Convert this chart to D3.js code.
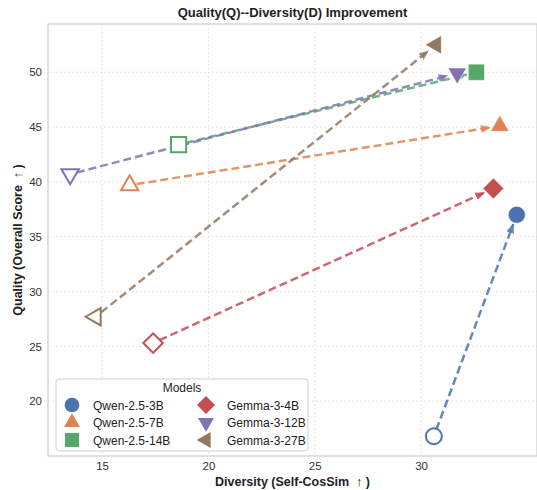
<!DOCTYPE html>
<html>
<head>
<meta charset="utf-8">
<script src="https://cdn.jsdelivr.net/npm/d3@7"></script>
<style>
  body { margin: 0; background: #fff; }
  text { font-family: "Liberation Sans", Arial, sans-serif; }
</style>
</head>
<body>
<script>
// model data: start (before) and end (after) points
const models = ["Qwen-2.5-3B", "Qwen-2.5-7B", "Qwen-2.5-14B", "Gemma-3-4B", "Gemma-3-12B", "Gemma-3-27B"];
const startDiversity = [30.6, 16.3, 18.6, 17.4, 13.5, 14.7];
const startQuality   = [16.8, 39.7, 43.4, 25.3, 40.7, 27.7];
const endDiversity   = [34.5, 33.7, 32.6, 33.4, 31.7, 30.7];
const endQuality     = [37.0, 45.1, 50.0, 39.4, 49.9, 52.5];
const colors  = ["#4C72B0", "#DD8452", "#55A868", "#C44E52", "#8172B3", "#937860"];
const shapes  = ["circle", "triangleUp", "square", "diamond", "triangleDown", "triangleLeft"];
const xTicks = [15, 20, 25, 30];
const yTicks = [20, 25, 30, 35, 40, 45, 50];

const W = 537, H = 490;
const margin = {top: 24, right: 0, bottom: 34, left: 48};

const svg = d3.select("body").append("svg")
  .attr("width", W).attr("height", H);

const x = d3.scaleLinear().domain([12.46, 35.45]).range([margin.left, W - margin.right]);
const y = d3.scaleLinear().domain([15.0, 54.4]).range([H - margin.bottom, margin.top]);

// grid
const g = svg.append("g");
g.selectAll(".vgrid").data(xTicks).join("line")
  .attr("x1", d => x(d)).attr("x2", d => x(d))
  .attr("y1", margin.top).attr("y2", H - margin.bottom)
  .attr("stroke", "#d6d6d6").attr("stroke-width", 0.8).attr("stroke-dasharray", "1.5,2.5");
g.selectAll(".hgrid").data(yTicks).join("line")
  .attr("y1", d => y(d)).attr("y2", d => y(d))
  .attr("x1", margin.left).attr("x2", W - margin.right)
  .attr("stroke", "#d6d6d6").attr("stroke-width", 0.8).attr("stroke-dasharray", "1.5,2.5");

// frame
svg.append("rect")
  .attr("x", margin.left).attr("y", margin.top)
  .attr("width", W - margin.right - margin.left)
  .attr("height", H - margin.bottom - margin.top)
  .attr("fill", "none").attr("stroke", "#cccccc").attr("stroke-width", 1.2);

// axes (no tick lines)
const xAxis = svg.append("g")
  .attr("transform", `translate(0,${H - margin.bottom})`)
  .call(d3.axisBottom(x).tickValues(xTicks).tickSize(0).tickPadding(6));
const yAxis = svg.append("g")
  .attr("transform", `translate(${margin.left},0)`)
  .call(d3.axisLeft(y).tickValues(yTicks).tickSize(0).tickPadding(6));
[xAxis, yAxis].forEach(a => {
  a.select(".domain").remove();
  a.selectAll("text").attr("font-size", 11.5).attr("fill", "#333")
    .attr("font-family", "'Liberation Sans', Arial, sans-serif");
});

// symbols
const symTypes = {
  circle: d3.symbolCircle,
  square: d3.symbolSquare,
  diamond: d3.symbolSquare,
  triangleUp: d3.symbolTriangle,
  triangleDown: d3.symbolTriangle,
  triangleLeft: d3.symbolTriangle
};
const symRot = {circle: 0, square: 0, diamond: 45, triangleUp: 0, triangleDown: 180, triangleLeft: -90};
const symSize = {circle: 200, square: 230, diamond: 190, triangleUp: 130, triangleDown: 130, triangleLeft: 130};
function symbolPath(shape, scale) {
  return d3.symbol().type(symTypes[shape]).size(symSize[shape] * scale)();
}

// arrowheads
const defs = svg.append("defs");
colors.forEach((c, i) => {
  defs.append("marker")
    .attr("id", "arrow" + i)
    .attr("viewBox", "0 0 10 10")
    .attr("refX", 9).attr("refY", 5)
    .attr("markerWidth", 4).attr("markerHeight", 4)
    .attr("orient", "auto")
    .append("path").attr("d", "M0,1 L10,5 L0,9 Z").attr("fill", c).attr("fill-opacity", 0.85);
});

const data = models.map((m, i) => ({
  name: m, i,
  x0: startDiversity[i], y0: startQuality[i],
  x1: endDiversity[i], y1: endQuality[i],
  color: colors[i], shape: shapes[i]
}));

// dashed arrows
svg.append("g").selectAll("line").data(data).join("line")
  .each(function(d) {
    const sx = x(d.x0), sy = y(d.y0), ex = x(d.x1), ey = y(d.y1);
    const len = Math.hypot(ex - sx, ey - sy);
    const ux = (ex - sx) / len, uy = (ey - sy) / len;
    const s0 = 7, s1 = 10;
    d3.select(this)
      .attr("x1", sx + ux * s0).attr("y1", sy + uy * s0)
      .attr("x2", ex - ux * s1).attr("y2", ey - uy * s1);
  })
  .attr("stroke", d => d.color).attr("stroke-opacity", 0.85)
  .attr("stroke-width", 2.5).attr("stroke-dasharray", "8,4")
  .attr("marker-end", d => `url(#arrow${d.i})`);

// start markers (hollow)
svg.append("g").selectAll("path").data(data).join("path")
  .attr("d", d => symbolPath(d.shape, 1))
  .attr("transform", d => `translate(${x(d.x0)},${y(d.y0)}) rotate(${symRot[d.shape]})`)
  .attr("fill", "#fff").attr("stroke", d => d.color).attr("stroke-width", 2);

// end markers (filled)
svg.append("g").selectAll("path").data(data).join("path")
  .attr("d", d => symbolPath(d.shape, 1.15))
  .attr("transform", d => `translate(${x(d.x1)},${y(d.y1)}) rotate(${symRot[d.shape]})`)
  .attr("fill", d => d.color).attr("stroke", "#fff").attr("stroke-width", 0.6);

// title and axis labels
svg.append("text").attr("x", (margin.left + W - margin.right) / 2).attr("y", 17)
  .attr("text-anchor", "middle").attr("font-size", 13).attr("font-weight", "bold").attr("fill", "#222")
  .text("Quality(Q)--Diversity(D) Improvement");
svg.append("text").attr("x", (margin.left + W - margin.right) / 2).attr("y", 486)
  .attr("text-anchor", "middle").attr("font-size", 12.5).attr("font-weight", "bold").attr("fill", "#222")
  .text("Diversity (Self-CosSim\u00a0\u00a0\u2191\u00a0)");
svg.append("text")
  .attr("transform", `translate(22,${(margin.top + H - margin.bottom) / 2}) rotate(-90)`)
  .attr("text-anchor", "middle").attr("font-size", 12.5).attr("font-weight", "bold").attr("fill", "#222")
  .text("Quality (Overall Score\u00a0\u00a0\u2191\u00a0)");

// legend
const lg = svg.append("g").attr("transform", "translate(56,379)");
lg.append("rect").attr("width", 252).attr("height", 72).attr("rx", 3)
  .attr("fill", "#fff").attr("fill-opacity", 0.85).attr("stroke", "#d0d0d0");
lg.append("text").attr("x", 126).attr("y", 13).attr("text-anchor", "middle")
  .attr("font-size", 12).attr("fill", "#222").text("Models");
const items = lg.selectAll(".item").data(data).join("g")
  .attr("transform", (d, i) => `translate(${i < 3 ? 16 : 150},${26 + (i % 3) * 17.5})`);
items.append("path")
  .attr("d", d => symbolPath(d.shape, 0.85))
  .attr("transform", d => `rotate(${symRot[d.shape]})`)
  .attr("fill", d => d.color);
items.append("text").attr("x", 21).attr("y", 4.5).attr("font-size", 12).attr("fill", "#222")
  .text(d => d.name);
</script>
</body>
</html>
